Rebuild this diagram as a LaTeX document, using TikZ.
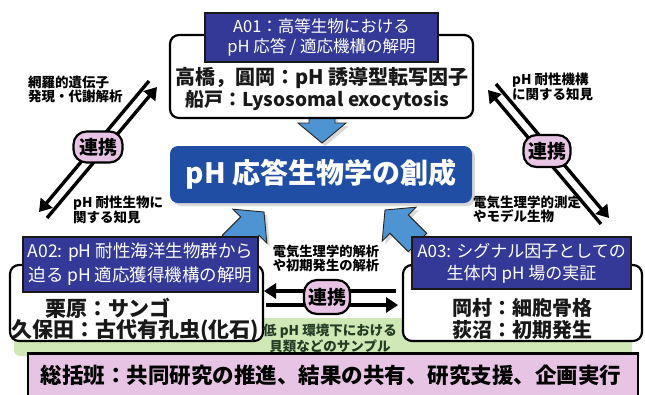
\documentclass[tikz,border=0pt]{standalone}
\usepackage{fontspec}
\setmainfont{Noto Sans CJK JP}
\usetikzlibrary{arrows.meta,shadows}
\definecolor{titleblue}{RGB}{52,56,150}
\definecolor{corebl}{RGB}{32,78,165}
\definecolor{arrowbl}{RGB}{78,148,210}
\definecolor{pillpink}{RGB}{232,196,228}
\definecolor{bandgreen}{RGB}{208,232,182}
\definecolor{labgreen}{RGB}{35,60,35}
\newcommand\fsz[2]{\fontsize{#1}{#2}\selectfont}
\newcommand\blockarr[4]{%
  \path[blockshape, shift={(#1,#2)}, rotate=#3] (0,0) -- (-20,24) -- (-20,13) -- (-#4,13) -- (-#4,-13) -- (-20,-13) -- (-20,-24) -- cycle;}
\tikzset{
  blockshape/.style={draw=black!85, line width=0.9pt, fill=arrowbl, line join=miter,
    drop shadow={opacity=0.3, shadow xshift=3pt, shadow yshift=-3pt}},
  outerbox/.style={draw=black, line width=2.2pt, rounded corners=9pt, fill=white},
  titlebox/.style={draw=black!90, line width=1.8pt, fill=titleblue, text=white, align=center, inner sep=0pt},
  corebox/.style={fill=corebl, rounded corners=8pt, text=white, inner sep=0pt,
    drop shadow={opacity=0.3, shadow xshift=3pt, shadow yshift=-3pt}},
  bodytext/.style={font=\bfseries\fsz{20}{23}, inner sep=0pt, text=black!90},
  conn/.style={draw=black, line width=3.4pt},
  tipped/.style={-{Triangle[length=12pt,width=15pt]}},
  pill/.style={draw=black, line width=2.2pt, fill=pillpink, rounded corners=13pt, inner sep=0pt,
    font=\bfseries\fsz{19}{22}},
  lab/.style={font=\bfseries\fsz{13.5}{14}, inner sep=0pt, align=left},
  sumbox/.style={draw=black, line width=2.5pt, fill=pillpink, inner sep=0pt}
}
\begin{document}
\begin{tikzpicture}[x=1pt, y=-1pt]
\useasboundingbox (0,0) rectangle (645,394);
\clip (0,0) rectangle (645,394);
\fill[white] (0,0) rectangle (645,394);

% green band
\fill[bandgreen, rounded corners=6pt] (14,318) rectangle (632,356);

% block arrows toward the core
\blockarr{322}{143}{-90}{32}
\blockarr{264}{212}{45}{46}
\blockarr{385}{210}{135}{46}

% A01
\node[outerbox, minimum width=303pt, minimum height=83pt] (a01) at (321.5,76.5) {};
\node[titlebox, minimum width=233pt, minimum height=49pt, font=\fsz{16.5}{20.5}] (a01t) at (321.5,37.5)
  {A01：高等生物における\\pH 応答 / 適応機構の解明};
\node[bodytext] (a01l1) at (322,78) {高橋，圓岡：pH 誘導型転写因子};
\node[bodytext, font=\bfseries\fsz{19}{23}] (a01l2) at (317,100) {船戸：Lysosomal exocytosis};

% core
\node[corebox, minimum width=302pt, minimum height=57pt, font=\bfseries\fsz{28}{32}] (core) at (321,174.5)
  {pH 応答生物学の創成};

% A02
\node[outerbox, minimum width=253pt, minimum height=76pt] (a02) at (136.5,303) {};
\node[titlebox, minimum width=235pt, minimum height=55pt, font=\fsz{17.5}{24}] (a02t) at (140.5,264.5)
  {A02: pH 耐性海洋生物群から\\迫る pH 適応獲得機構の解明};
\node[bodytext, font=\bfseries\fsz{21}{24}] (a02l1) at (108,308) {栗原：サンゴ};
\node[bodytext, font=\bfseries\fsz{21}{24}] (a02l2) at (135,331) {久保田：古代有孔虫(化石)};

% A03
\node[outerbox, minimum width=239pt, minimum height=76pt] (a03) at (522.5,303) {};
\node[titlebox, minimum width=219pt, minimum height=52pt, font=\fsz{17}{22}] (a03t) at (521.5,263)
  {A03: シグナル因子としての\\生体内 pH 場の実証};
\node[bodytext] (a03l1) at (522,308) {岡村：細胞骨格};
\node[bodytext] (a03l2) at (522,330) {荻沼：初期発生};

% summary box
\node[sumbox, minimum width=610pt, minimum height=50pt, anchor=north] (sum) at (333,352) {};
\node[font=\bfseries\fsz{21.5}{24}, inner sep=0pt] (sumt) at (331,375)
  {総括班：共同研究の推進、結果の共有、研究支援、企画実行};

% left diagonal connectors
\coordinate (l1a) at (149,81);
\coordinate (l1b) at (39,212);
\coordinate (l2a) at (47,218);
\coordinate (l2b) at (157,87);
\draw[conn, tipped] (l1a) -- (l1b);
\draw[conn, tipped] (l2a) -- (l2b);
\node[pill, minimum width=49pt, minimum height=31pt] (pl) at (98,147) {連携};

% right diagonal connectors
\coordinate (r1a) at (496,84);
\coordinate (r1b) at (609,218);
\coordinate (r2a) at (601,224);
\coordinate (r2b) at (488,90);
\draw[conn, tipped] (r1a) -- (r1b);
\draw[conn, tipped] (r2a) -- (r2b);
\node[pill, minimum width=47pt, minimum height=32pt] (pr) at (547,151) {連携};

% middle horizontal connectors
\coordinate (m1a) at (396,291);
\coordinate (m1b) at (264,291);
\coordinate (m2a) at (266,305);
\coordinate (m2b) at (398,305);
\draw[conn, tipped] (m1a) -- (m1b);
\draw[conn, tipped] (m2a) -- (m2b);
\node[pill, minimum width=46pt, minimum height=34pt] (pm) at (327,297) {連携};

% labels
\node[lab, anchor=west] (lab1) at (28,89.5) {網羅的遺伝子\\発現・代謝解析};
\node[lab, anchor=west] (lab2) at (73,210) {pH 耐性生物に\\関する知見};
\node[lab, anchor=west] (lab3) at (512,87) {pH 耐性機構\\に関する知見};
\node[lab, anchor=west] (lab4) at (473,209.5) {電気生理学的測定\\やモデル生物};
\node[lab, align=center, font=\bfseries\fsz{13.3}{12}] (lab5) at (326,258) {電気生理学的解析\\や初期発生の解析};
\node[lab, align=center, text=labgreen, font=\bfseries\fsz{13.5}{16}] (lab6) at (330,338) {低 pH 環境下における\\貝類などのサンプル};
\end{tikzpicture}
\end{document}
